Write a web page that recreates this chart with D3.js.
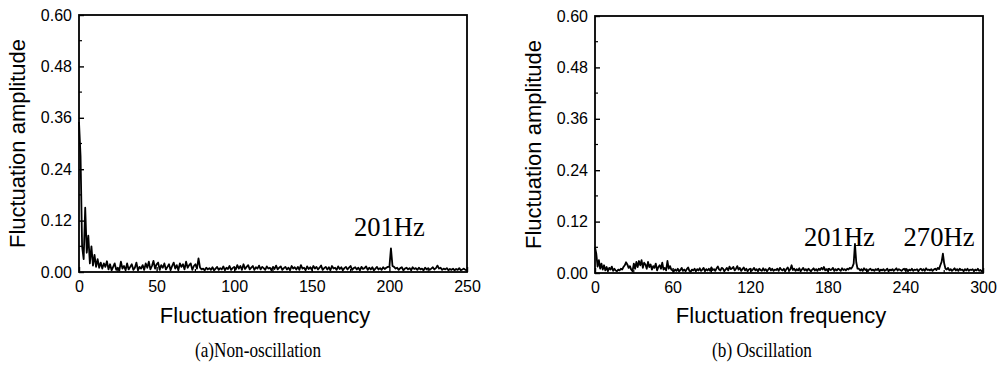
<!DOCTYPE html>
<html>
<head>
<meta charset="utf-8">
<script src="https://cdn.jsdelivr.net/npm/d3@7"></script>
<style>
  body { margin: 0; background: #fff; }
  .tick text { font-family: Arial, "Liberation Sans", sans-serif; font-size: 16px; fill: #000; }
  .title { font-family: Arial, "Liberation Sans", sans-serif; font-size: 22px; fill: #000; }
  .caption { font-family: "Times New Roman", "Liberation Serif", serif; font-size: 20px; fill: #000; }
  .note { font-family: "Times New Roman", "Liberation Serif", serif; font-size: 28px; fill: #000; }
</style>
</head>
<body>
<div id="chart"></div>
<script>
// panel (a) non-oscillation, 0..250 Hz, one value per Hz
var ampA = [
  0.350, 0.270, 0.060, 0.030, 0.150, 0.045, 0.085, 0.020, 0.060, 0.015, 0.040, 0.012, 0.030, 0.010, 0.022, 0.008, 0.020, 0.012, 0.025, 0.006,
  0.018, 0.004, 0.012, 0.020, 0.005, 0.010, 0.003, 0.024, 0.008, 0.014, 0.004, 0.020, 0.006, 0.012, 0.018, 0.005, 0.010, 0.022, 0.004, 0.012,
  0.008, 0.016, 0.005, 0.020, 0.010, 0.024, 0.006, 0.014, 0.026, 0.008, 0.018, 0.022, 0.005, 0.016, 0.010, 0.020, 0.006, 0.012, 0.018, 0.004,
  0.014, 0.022, 0.008, 0.016, 0.004, 0.020, 0.012, 0.018, 0.006, 0.024, 0.010, 0.016, 0.020, 0.005, 0.014, 0.018, 0.008, 0.032, 0.010, 0.006,
  0.008, 0.004, 0.010, 0.006, 0.009, 0.005, 0.011, 0.004, 0.008, 0.012, 0.005, 0.009, 0.006, 0.013, 0.004, 0.010, 0.007, 0.014, 0.005, 0.009,
  0.012, 0.006, 0.016, 0.008, 0.014, 0.005, 0.018, 0.007, 0.012, 0.016, 0.006, 0.010, 0.014, 0.005, 0.011, 0.008, 0.015, 0.006, 0.012, 0.009,
  0.005, 0.013, 0.008, 0.010, 0.004, 0.012, 0.007, 0.015, 0.006, 0.010, 0.013, 0.005, 0.009, 0.012, 0.006, 0.010, 0.004, 0.014, 0.008, 0.011,
  0.006, 0.012, 0.005, 0.016, 0.008, 0.010, 0.004, 0.013, 0.007, 0.011, 0.005, 0.014, 0.008, 0.012, 0.006, 0.010, 0.015, 0.005, 0.009, 0.012,
  0.006, 0.011, 0.004, 0.014, 0.008, 0.010, 0.005, 0.013, 0.007, 0.011, 0.004, 0.009, 0.012, 0.006, 0.010, 0.014, 0.005, 0.009, 0.011, 0.006,
  0.010, 0.004, 0.012, 0.007, 0.009, 0.013, 0.005, 0.010, 0.006, 0.011, 0.004, 0.008, 0.012, 0.006, 0.009, 0.005, 0.011, 0.007, 0.010, 0.012,
  0.012, 0.055, 0.014, 0.012, 0.008, 0.010, 0.005, 0.009, 0.011, 0.004, 0.008, 0.010, 0.006, 0.009, 0.004, 0.011, 0.007, 0.009, 0.005, 0.010,
  0.006, 0.008, 0.004, 0.010, 0.006, 0.009, 0.005, 0.008, 0.011, 0.006, 0.009, 0.015, 0.008, 0.010, 0.005, 0.008, 0.006, 0.009, 0.004, 0.007,
  0.005, 0.008, 0.004, 0.007, 0.005, 0.009, 0.004, 0.006, 0.008, 0.005, 0.004
];

// panel (b) oscillation, 0..300 Hz, one value per Hz
var ampB = [
  0.060, 0.045, 0.015, 0.030, 0.010, 0.022, 0.008, 0.018, 0.006, 0.014, 0.004, 0.012, 0.008, 0.015, 0.005, 0.010, 0.006, 0.004, 0.008, 0.006,
  0.010, 0.008, 0.014, 0.018, 0.025, 0.020, 0.012, 0.016, 0.008, 0.004, 0.022, 0.010, 0.026, 0.014, 0.028, 0.018, 0.030, 0.012, 0.024, 0.020,
  0.010, 0.026, 0.014, 0.020, 0.008, 0.016, 0.012, 0.022, 0.006, 0.014, 0.018, 0.010, 0.024, 0.008, 0.012, 0.006, 0.028, 0.010, 0.016, 0.008,
  0.006, 0.004, 0.008, 0.005, 0.010, 0.004, 0.007, 0.012, 0.005, 0.008, 0.004, 0.009, 0.013, 0.005, 0.003, 0.008, 0.006, 0.010, 0.004, 0.009,
  0.006, 0.011, 0.005, 0.008, 0.012, 0.004, 0.009, 0.006, 0.010, 0.005, 0.013, 0.007, 0.009, 0.005, 0.011, 0.015, 0.008, 0.006, 0.012, 0.010,
  0.004, 0.008, 0.012, 0.006, 0.015, 0.009, 0.011, 0.014, 0.006, 0.010, 0.016, 0.008, 0.012, 0.005, 0.009, 0.013, 0.006, 0.010, 0.004, 0.008,
  0.010, 0.005, 0.008, 0.012, 0.006, 0.009, 0.004, 0.010, 0.007, 0.005, 0.011, 0.006, 0.009, 0.004, 0.008, 0.012, 0.006, 0.010, 0.005, 0.008,
  0.007, 0.010, 0.005, 0.012, 0.008, 0.006, 0.010, 0.004, 0.009, 0.013, 0.006, 0.008, 0.018, 0.007, 0.010, 0.005, 0.009, 0.006, 0.011, 0.004,
  0.008, 0.012, 0.006, 0.009, 0.005, 0.010, 0.007, 0.004, 0.008, 0.011, 0.006, 0.009, 0.005, 0.010, 0.007, 0.012, 0.008, 0.014, 0.006, 0.009,
  0.005, 0.010, 0.007, 0.008, 0.012, 0.005, 0.009, 0.006, 0.010, 0.008, 0.005, 0.011, 0.007, 0.009, 0.006, 0.010, 0.008, 0.012, 0.010, 0.014,
  0.022, 0.068, 0.025, 0.010, 0.010, 0.006, 0.009, 0.005, 0.011, 0.007, 0.009, 0.004, 0.008, 0.010, 0.006, 0.008, 0.005, 0.009, 0.007, 0.010,
  0.004, 0.008, 0.006, 0.009, 0.005, 0.007, 0.010, 0.004, 0.008, 0.006, 0.009, 0.005, 0.008, 0.011, 0.006, 0.009, 0.007, 0.005, 0.008, 0.010,
  0.006, 0.009, 0.004, 0.008, 0.006, 0.010, 0.005, 0.008, 0.007, 0.009, 0.004, 0.008, 0.010, 0.006, 0.009, 0.005, 0.011, 0.007, 0.008, 0.006,
  0.009, 0.005, 0.008, 0.010, 0.007, 0.012, 0.009, 0.018, 0.026, 0.045, 0.022, 0.010, 0.008, 0.012, 0.006, 0.009, 0.005, 0.008, 0.011, 0.006,
  0.009, 0.005, 0.010, 0.007, 0.008, 0.004, 0.009, 0.006, 0.010, 0.005, 0.008, 0.007, 0.009, 0.004, 0.008, 0.006, 0.010, 0.005, 0.007, 0.004, 0.006
];

var yTicks = [0, 0.12, 0.24, 0.36, 0.48, 0.60];
var yMinor = [0.06, 0.18, 0.30, 0.42, 0.54];
var xTicksA = [0, 50, 100, 150, 200, 250];
var xMinorA = [25, 75, 125, 175, 225];
var xTicksB = [0, 60, 120, 180, 240, 300];
var xMinorB = [30, 90, 150, 210, 270];

var panels = [
  { amp: ampA, xMax: 250, ticks: xTicksA, minor: xMinorA, left: 79, right: 467, top: 15, bottom: 272,
    caption: "(a)Non-oscillation", capShift: -15,
    notes: [{ f: 200, v: 0.084, text: "201Hz" }] },
  { amp: ampB, xMax: 300, ticks: xTicksB, minor: xMinorB, left: 595, right: 983, top: 16, bottom: 273,
    caption: "(b) Oscillation", capShift: -27,
    notes: [{ f: 189, v: 0.063, text: "201Hz" }, { f: 266, v: 0.063, text: "270Hz" }] }
];

var svg = d3.select("#chart").append("svg")
    .attr("width", 999)
    .attr("height", 365);

panels.forEach(function(p) {
  var w = p.right - p.left, h = p.bottom - p.top;
  var g = svg.append("g").attr("transform", "translate(" + p.left + "," + p.top + ")");

  var x = d3.scaleLinear().domain([0, p.xMax]).range([0, w]);
  var y = d3.scaleLinear().domain([0, 0.6]).range([h, 0]);

  var line = d3.line()
      .x(function(d, i) { return x(i); })
      .y(function(d) { return y(d); });

  g.append("path")
      .datum(p.amp)
      .attr("fill", "none")
      .attr("stroke", "#000")
      .attr("stroke-width", 1.8)
      .attr("stroke-linejoin", "round")
      .attr("d", line);

  // inward ticks
  var xAxis = d3.axisBottom(x).tickValues(p.ticks).tickSizeInner(-5).tickSizeOuter(0).tickPadding(9)
      .tickFormat(d3.format("d"));
  var yAxis = d3.axisLeft(y).tickValues(yTicks).tickSizeInner(-5).tickSizeOuter(0).tickPadding(7)
      .tickFormat(d3.format(".2f"));

  g.append("g").attr("transform", "translate(0," + h + ")").call(xAxis)
    .call(function(s) { s.select(".domain").remove(); s.selectAll("line").attr("stroke-width", 1.4); });
  g.append("g").call(yAxis)
    .call(function(s) { s.select(".domain").remove(); s.selectAll("line").attr("stroke-width", 1.4); });

  g.append("g").selectAll("line").data(p.minor).enter().append("line")
      .attr("x1", function(d) { return x(d); }).attr("x2", function(d) { return x(d); })
      .attr("y1", h).attr("y2", h - 3)
      .attr("stroke", "#000").attr("stroke-width", 1.2);
  g.append("g").selectAll("line").data(yMinor).enter().append("line")
      .attr("y1", function(d) { return y(d); }).attr("y2", function(d) { return y(d); })
      .attr("x1", 0).attr("x2", 3)
      .attr("stroke", "#000").attr("stroke-width", 1.2);

  g.append("rect")
      .attr("width", w).attr("height", h)
      .attr("fill", "none").attr("stroke", "#000").attr("stroke-width", 1.8);

  p.notes.forEach(function(n) {
    g.append("text").attr("class", "note")
        .attr("transform", "translate(" + x(n.f) + "," + y(n.v) + ") scale(0.95,1)")
        .attr("text-anchor", "middle")
        .text(n.text);
  });

  svg.append("text").attr("class", "title")
      .attr("x", p.left + w / 2 - 8).attr("y", 323)
      .attr("text-anchor", "middle")
      .text("Fluctuation frequency");

  svg.append("text").attr("class", "title")
      .attr("transform", "translate(" + (p.left - 54) + "," + (p.top + h / 2) + ") rotate(-90)")
      .attr("text-anchor", "middle")
      .text("Fluctuation amplitude");

  // caption glyphs look narrow in the reference
  svg.append("text").attr("class", "caption")
      .attr("transform", "translate(" + (p.left + w / 2 + p.capShift) + ",357) scale(0.86,1)")
      .attr("text-anchor", "middle")
      .text(p.caption);
});
</script>
</body>
</html>
